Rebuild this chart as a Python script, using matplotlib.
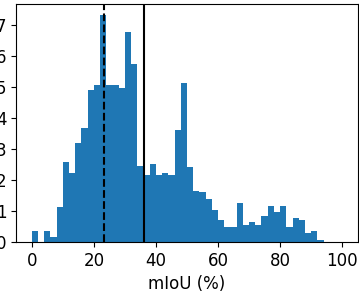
import numpy as np
import matplotlib
matplotlib.use("Agg")
import matplotlib.pyplot as plt

# bin edges 0..100 step 2 (50 bins)
bin_edges = np.linspace(0, 100, 51)
# density (%) per bin
heights = [0.35, 0.0, 0.35, 0.15, 1.12, 2.57, 2.22, 3.19, 3.67, 4.91,
           5.05, 7.32, 5.05, 5.05, 4.97, 6.76, 5.73, 2.44, 2.15, 2.50,
           2.15, 2.21, 2.15, 3.60, 5.12, 2.42, 1.66, 1.60, 1.38, 1.04,
           0.70, 0.48, 0.48, 1.26, 0.56, 0.63, 0.56, 0.84, 1.17, 0.98,
           1.17, 0.48, 0.76, 0.70, 0.28, 0.35, 0.08, 0.0, 0.0, 0.0]
median_val = 23.3
mean_val = 36.1
xticks = [0, 20, 40, 60, 80, 100]
yticks = [0, 1, 2, 3, 4, 5, 6, 7]
xlabel = "mIoU (%)"

fig = plt.figure(figsize=(3.59, 2.94), dpi=100)
ax = fig.add_axes([16.3/359, 1-242/294, (357.7-16.3)/359, (242-3.7)/294])

centers = (bin_edges[:-1] + bin_edges[1:]) / 2
ax.hist(centers, bins=bin_edges, weights=heights, color="#1f77b4")
ax.axvline(median_val, color="black", linestyle="--", linewidth=1.5)
ax.axvline(mean_val, color="black", linestyle="-", linewidth=1.5)

ax.set_xticks(xticks)
ax.set_yticks(yticks)
ax.tick_params(labelsize=12)
ax.set_xlabel(xlabel, fontsize=12)

fig.savefig("out.png", dpi=100)
